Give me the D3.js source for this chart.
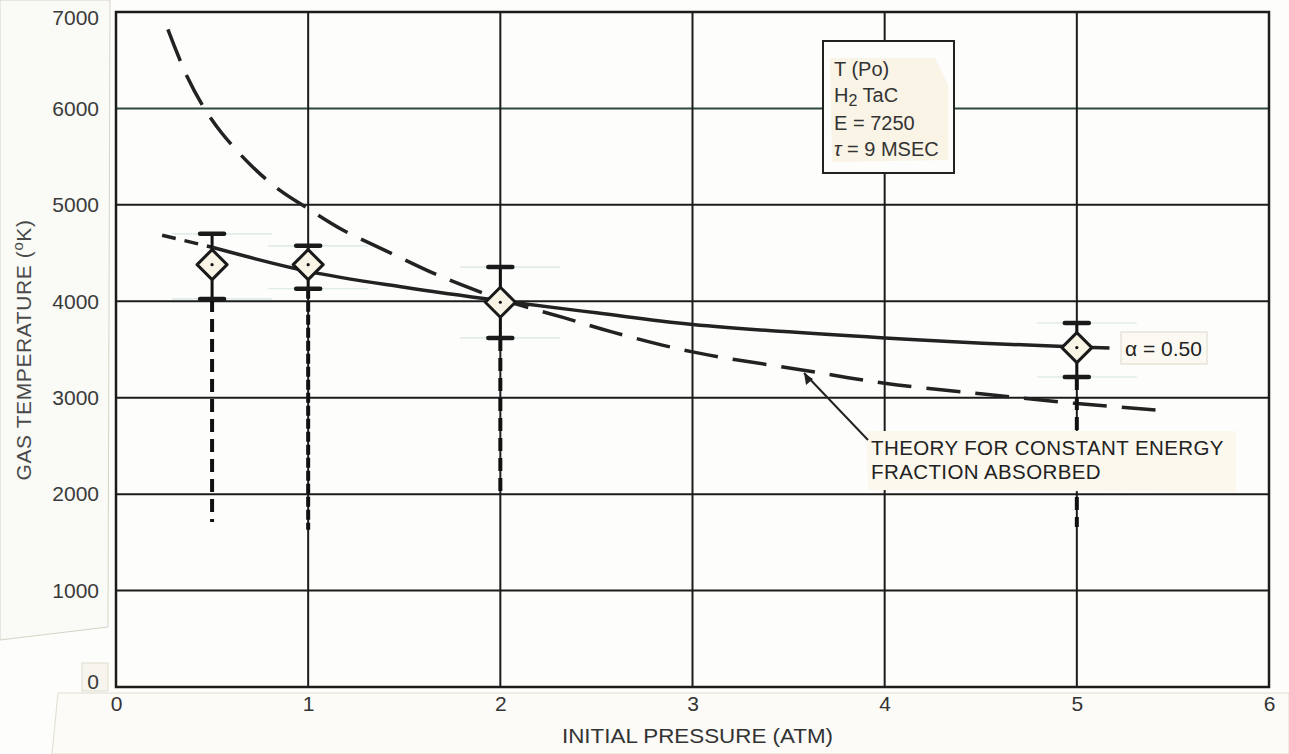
<!DOCTYPE html>
<html><head><meta charset="utf-8">
<script src="https://cdn.jsdelivr.net/npm/d3@7"></script>
<style>
html,body{margin:0;padding:0;background:#fdfdfb;}
svg{display:block;font-family:"Liberation Sans",Arial,sans-serif;}
</style></head>
<body><svg id="c" width="1289" height="754"></svg>
<script>
// ---- data ----
const xTicks = [0, 1, 2, 3, 4, 5, 6];
const yTicks = [0, 1000, 2000, 3000, 4000, 5000, 6000, 7000];
const pressure = [0.5, 1, 2, 5];
const temperature = [4380, 4380, 3990, 3520];
const errHigh = [4700, 4575, 4355, 3775];
const errLow = [4025, 4130, 3620, 3215];
const dropLow = [1710, 1630, 2030, 1660];
const alphaP = [0.5, 1, 1.5, 2, 2.5, 3, 4, 5, 5.17];
const alphaT = [4560, 4310, 4145, 4005, 3880, 3760, 3620, 3525, 3515];
const alphaExtP = [0.24, 0.5];
const alphaExtT = [4685, 4560];
const theoryP = [0.27, 0.37, 0.46, 0.55, 0.71, 0.85, 1.0, 1.18, 1.43, 1.67, 1.91, 2.0, 2.33, 2.58, 3, 3.57, 4, 4.5, 5, 5.42];
const theoryT = [6820, 6330, 6000, 5745, 5395, 5155, 4960, 4740, 4500, 4275, 4085, 4020, 3830, 3683, 3475, 3288, 3150, 3040, 2940, 2870];
const legendLines = ["T (Po)", "H|2| TaC", "E = 7250", "\u03C4  = 9 MSEC"];
const alphaLabel = "\u03B1 = 0.50";
const theoryLabel = ["THEORY FOR CONSTANT ENERGY", "FRACTION ABSORBED"];
const xTitle = "INITIAL PRESSURE (ATM)";

// ---- layout ----
const svg = d3.select("#c");
const x = d3.scaleLinear().domain([0, 6]).range([116, 1269]);
const y = d3.scaleLinear().domain([0, 7000]).range([687, 12]);
const ink = "#1c1c1c";

// paper patches
svg.append("path").attr("d", "M0,0 L110,0 L108,627 L0,640 Z").attr("fill", "#fafaf6").attr("stroke", "#d6d2c6").attr("stroke-width", 1);
svg.append("path").attr("d", "M58,693 L1289,693 L1289,754 L52,754 Z").attr("fill", "#fcfbf8").attr("stroke", "#e0dccf").attr("stroke-width", 1);
svg.append("rect").attr("x", 82).attr("y", 663).attr("width", 26).attr("height", 28).attr("fill", "#f7f5ee").attr("stroke", "#e0dccf");

// grid
const g = svg.append("g");
g.selectAll("line.h").data(yTicks).join("line")
  .attr("x1", x(0)).attr("x2", x(6)).attr("y1", d => y(d)).attr("y2", d => y(d))
  .attr("stroke", d => d === 6000 ? "#2f4a3a" : ink).attr("stroke-width", 2);
g.selectAll("line.v").data(xTicks).join("line")
  .attr("y1", y(0)).attr("y2", y(7000)).attr("x1", d => x(d)).attr("x2", d => x(d))
  .attr("stroke", ink).attr("stroke-width", 2);
g.append("rect").attr("x", x(0)).attr("y", y(7000)).attr("width", x(6) - x(0)).attr("height", y(0) - y(7000))
  .attr("fill", "none").attr("stroke", ink).attr("stroke-width", 2.5);

// axes labels
const yAxis = d3.axisLeft(y).tickValues(yTicks).tickSize(0).tickPadding(17).tickFormat(d3.format("d"));
const ya = svg.append("g").attr("transform", `translate(${x(0)},0)`).call(yAxis);
ya.select(".domain").remove();
ya.selectAll("text").attr("font-size", 21).attr("fill", "#3a3a3a").attr("font-family", "Liberation Sans, Arial, sans-serif")
  .attr("dy", d => d === 0 ? "0.05em" : (d === 7000 ? "0.6em" : "0.32em"));
const xAxis = d3.axisBottom(x).tickValues(xTicks).tickSize(0).tickPadding(9).tickFormat(d3.format("d"));
const xa = svg.append("g").attr("transform", `translate(0,${y(0)})`).call(xAxis);
xa.select(".domain").remove();
xa.selectAll("text").attr("font-size", 21).attr("fill", "#333").attr("font-family", "Liberation Sans Narrow, Liberation Sans, Arial, sans-serif");

// titles
const yt = svg.append("text").attr("transform", "translate(31,350) rotate(-90)").attr("text-anchor", "middle")
  .attr("font-size", 21).attr("fill", "#4a4a4a").attr("letter-spacing", 0.6);
yt.append("tspan").text("GAS TEMPERATURE (");
yt.append("tspan").attr("dy", -8).attr("font-size", 15).text("o");
yt.append("tspan").attr("dy", 8).text("K)");
svg.append("text").attr("x", 562).attr("y", 743).attr("font-size", 21)
  .attr("textLength", 271).attr("lengthAdjust", "spacingAndGlyphs")
  .attr("fill", "#333").attr("font-family", "Liberation Sans Narrow, Liberation Sans, Arial, sans-serif").text(xTitle);

// faint cap guide lines
const faint = svg.append("g").attr("stroke", "#d6e6e4").attr("stroke-width", 1.2);
pressure.forEach((p, i) => {
  [errHigh[i], errLow[i]].forEach(v => {
    faint.append("line").attr("x1", x(p) - 40).attr("x2", x(p) + 60).attr("y1", y(v)).attr("y2", y(v));
  });
});

// lines
const line = d3.line().x(d => x(d[0])).y(d => y(d[1])).curve(d3.curveCatmullRom.alpha(0.5));
svg.append("path").datum(theoryP.map((p, i) => [p, theoryT[i]])).attr("d", line)
  .attr("fill", "none").attr("stroke", "#222").attr("stroke-width", 3.5).attr("stroke-dasharray", "34,15");
svg.append("path").datum(alphaExtP.map((p, i) => [p, alphaExtT[i]])).attr("d", line)
  .attr("fill", "none").attr("stroke", "#222").attr("stroke-width", 3.5).attr("stroke-dasharray", "14,9");

// drops (dashed verticals) and error bars
const drops = svg.append("g");
pressure.forEach((p, i) => {
  drops.append("line").attr("x1", x(p)).attr("x2", x(p)).attr("y1", y(errLow[i])).attr("y2", y(dropLow[i]))
    .attr("stroke", "#111").attr("stroke-width", 4).attr("stroke-dasharray", p === 1 ? "10,3" : "13,7");
  drops.append("line").attr("x1", x(p)).attr("x2", x(p)).attr("y1", y(errHigh[i])).attr("y2", y(errLow[i]))
    .attr("stroke", "#111").attr("stroke-width", 3);
  [errHigh[i], errLow[i]].forEach(v => {
    drops.append("line").attr("x1", x(p) - 12).attr("x2", x(p) + 12).attr("y1", y(v)).attr("y2", y(v))
      .attr("stroke", "#1a1a1a").attr("stroke-width", 4.5).attr("stroke-linecap", "round");
  });
});

svg.append("path").datum(alphaP.map((p, i) => [p, alphaT[i]])).attr("d", line)
  .attr("fill", "none").attr("stroke", "#222").attr("stroke-width", 3.5);

// diamonds
const pts = svg.append("g");
pressure.forEach((p, i) => {
  const cx = x(p), cy = y(temperature[i]), r = 15;
  pts.append("path").attr("d", `M${cx},${cy - r} L${cx + r},${cy} L${cx},${cy + r} L${cx - r},${cy} Z`)
    .attr("fill", "#f8f4e6").attr("stroke", "#1a1a1a").attr("stroke-width", 3).attr("stroke-linejoin", "round");
  pts.append("circle").attr("cx", cx).attr("cy", cy).attr("r", 1.6).attr("fill", "#111");
});

// alpha label
svg.append("rect").attr("x", 1121).attr("y", 332).attr("width", 86).attr("height", 32)
  .attr("fill", "#fbf9f2").attr("stroke", "#ddd8cb");
svg.append("text").attr("x", 1125).attr("y", 356).attr("font-size", 21).attr("fill", "#222").text(alphaLabel);

// theory annotation
svg.append("path").attr("d", "M866,431 L1236,431 L1236,492 L868,490 Z").attr("fill", "#fcf8ee").attr("stroke", "none");
svg.append("line").attr("x1", 868).attr("y1", 440).attr("x2", x(3.57) + 2).attr("y2", y(3288) + 3)
  .attr("stroke", "#222").attr("stroke-width", 2);
svg.append("path").attr("d", `M${x(3.57) + 2},${y(3288) + 3} l2,12 l7,-6 Z`).attr("fill", "#222");
theoryLabel.forEach((t, i) => {
  svg.append("text").attr("x", 871).attr("y", 455 + i * 24).attr("font-size", 20.5).attr("fill", "#222")
    .attr("letter-spacing", 0.4).text(t);
});

// legend box
svg.append("rect").attr("x", 823).attr("y", 41).attr("width", 131).attr("height", 132)
  .attr("fill", "#fdfdfb").attr("stroke", "#222").attr("stroke-width", 2);
svg.append("path").attr("d", "M830,58 L935,58 L948,85 L948,160 L832,162 Z").attr("fill", "#f9f4e6");
const legendY = [76, 102, 130, 156];
legendLines.forEach((t, i) => {
  const tx = svg.append("text").attr("x", 834).attr("y", legendY[i]).attr("font-size", 20).attr("fill", "#333");
  if (t.includes("|")) {
    const parts = t.split("|");
    tx.append("tspan").text(parts[0]);
    tx.append("tspan").attr("dy", 4).attr("font-size", 16).text(parts[1]);
    tx.append("tspan").attr("dy", -4).text(parts[2]);
  } else if (t.startsWith("\u03C4")) {
    tx.append("tspan").attr("font-style", "italic").text("\u03C4");
    tx.append("tspan").text(t.slice(1));
  } else tx.text(t);
});
</script></body></html>
